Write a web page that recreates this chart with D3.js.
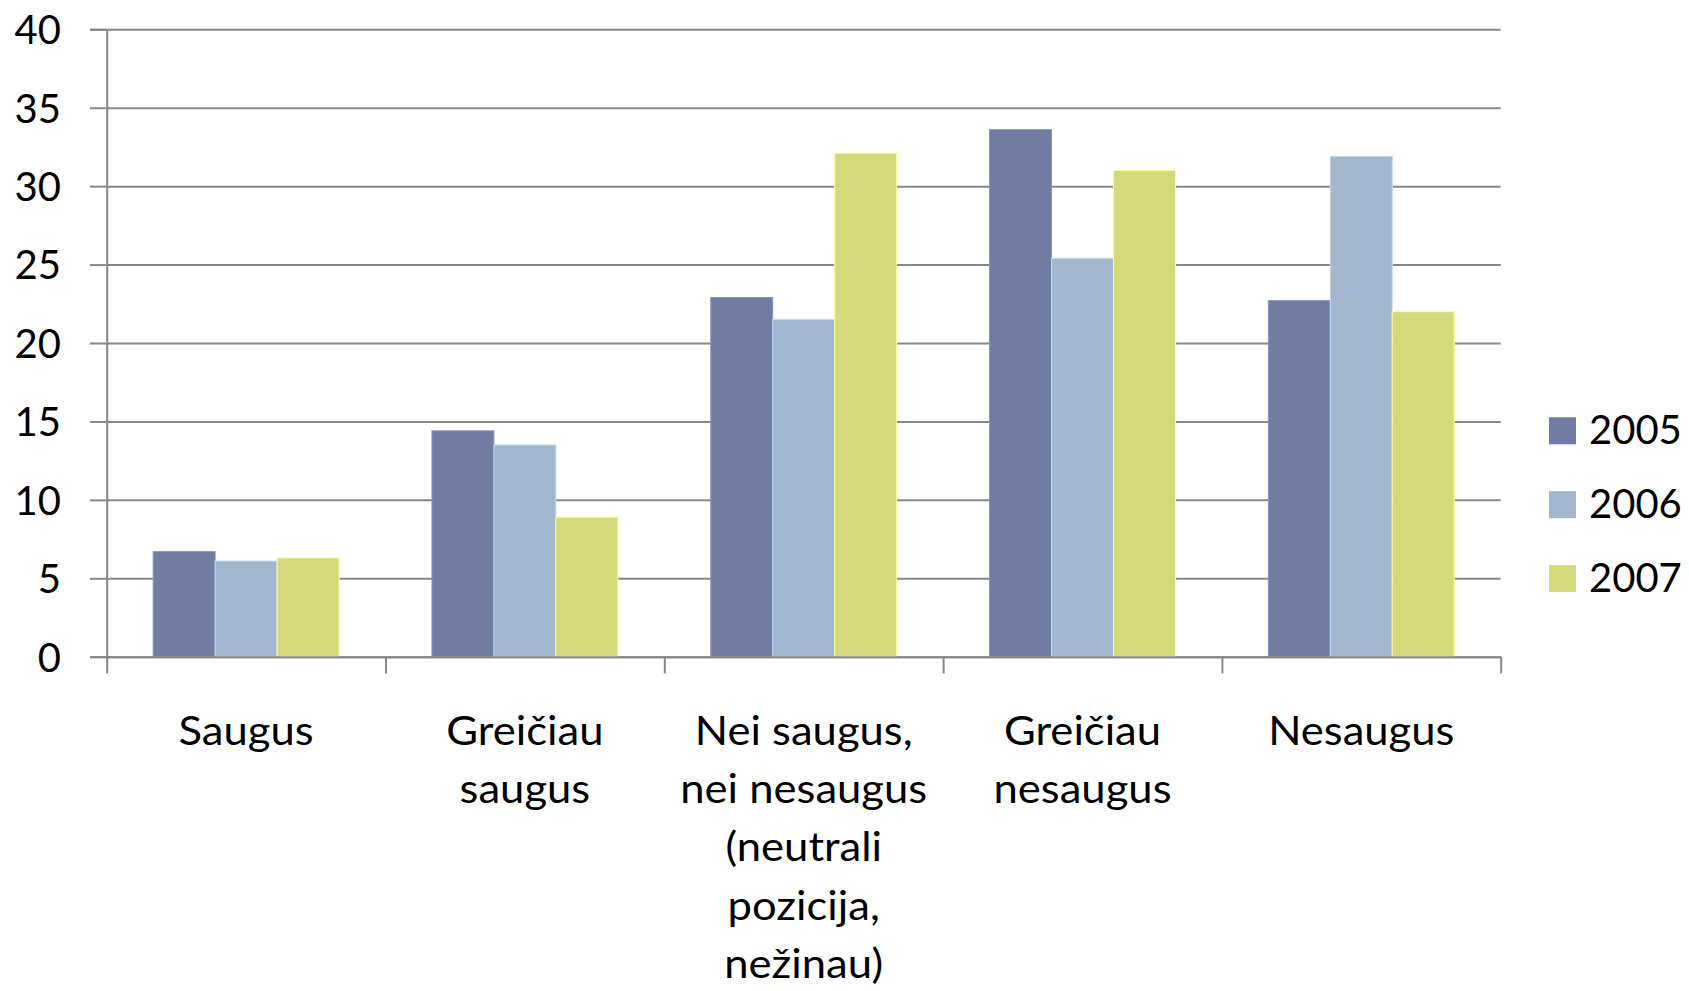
<!DOCTYPE html>
<html>
<head>
    <meta charset="utf-8" />
    <title>Saugus</title>
    <script src="https://cdn.jsdelivr.net/npm/d3@7"></script>
    <style>
        body { margin: 0; background: #fff; }
        text { font-family: Lato, "Open Sans", sans-serif; fill: #000; }
    </style>
</head>
<body>
    <script>
        var categories = [
            "Saugus",
            "Greičiau\nsaugus",
            "Nei saugus,\nnei nesaugus\n(neutrali\npozicija,\nnežinau)",
            "Greičiau\nnesaugus",
            "Nesaugus"
        ];
        var years = ["2005", "2006", "2007"];
        var values2005 = [6.7, 14.4, 22.9, 33.6, 22.7];
        var values2006 = [6.1, 13.5, 21.5, 25.4, 31.9];
        var values2007 = [6.3, 8.9, 32.1, 31.0, 22.0];
        var yTicks = [0, 5, 10, 15, 20, 25, 30, 35, 40];
        var colors = ["#727ba2", "#a2b7ce", "#d4da7c"];

        var series = [values2005, values2006, values2007];

        var W = 1689, H = 991;
        var margin = { top: 29.3, left: 106.7, right: 188.3, bottom: 334.3 };
        var width = W - margin.left - margin.right;
        var height = H - margin.top - margin.bottom;
        var fontSize = 40;

        var svg = d3.select("body")
            .append("svg")
            .attr("width", W)
            .attr("height", H);

        var g = svg.append("g")
            .attr("transform", "translate(" + margin.left + "," + margin.top + ")");

        var x = d3.scaleBand()
            .domain(categories)
            .range([0, width])
            .padding(0);

        // gap width 150% like the original: 3 bars + 1.5 bar gap per category
        var barW = x.bandwidth() / 4.5;
        var xSub = d3.scaleBand()
            .domain(years)
            .range([barW * 0.75, barW * 3.75]);

        var y = d3.scaleLinear()
            .domain([0, 40])
            .range([height, 0]);

        // grid lines
        g.append("g")
            .attr("class", "grid")
            .call(d3.axisLeft(y).tickValues(yTicks).tickSize(-width).tickFormat(""))
            .call(function (s) { s.select(".domain").remove(); })
            .selectAll("line")
            .attr("stroke", "#878787")
            .attr("stroke-width", 2);

        // bars
        var groups = g.selectAll(".cat")
            .data(categories)
            .enter()
            .append("g")
            .attr("class", "cat")
            .attr("transform", function (d) { return "translate(" + x(d) + ",0)"; });

        groups.selectAll("rect")
            .data(function (d, i) {
                return years.map(function (yr, k) { return { year: yr, value: series[k][i], k: k }; });
            })
            .enter()
            .append("rect")
            .attr("x", function (d) { return xSub(d.year); })
            .attr("width", xSub.bandwidth())
            .attr("y", function (d) { return y(d.value); })
            .attr("height", function (d) { return height - y(d.value); })
            .attr("fill", function (d) { return colors[d.k]; })
            .attr("stroke", function (d) { return d3.color(colors[d.k]).brighter(0.5); })
            .attr("stroke-width", 1);

        // y axis
        var yAxis = g.append("g")
            .call(d3.axisLeft(y).tickValues(yTicks).tickSize(16.7).tickPadding(29));
        yAxis.selectAll("line").attr("stroke", "#878787").attr("stroke-width", 2);
        yAxis.select(".domain").attr("stroke", "#878787").attr("stroke-width", 2);
        yAxis.selectAll("text").style("font-size", fontSize + "px").attr("dy", "0.36em");

        // x axis boundary ticks
        var xb = d3.scaleLinear().domain([0, categories.length]).range([0, width]);
        var xTickAxis = g.append("g")
            .attr("transform", "translate(0," + height + ")")
            .call(d3.axisBottom(xb).ticks(categories.length).tickSize(16.7).tickSizeOuter(0).tickFormat(""));
        xTickAxis.selectAll("line").attr("stroke", "#878787").attr("stroke-width", 2);
        xTickAxis.select(".domain").attr("stroke", "#878787").attr("stroke-width", 2);

        // category labels (slightly wider, like the stretched original)
        var xAxis = g.append("g")
            .attr("transform", "translate(0," + height + ")")
            .call(d3.axisBottom(x).tickSize(0).tickPadding(0));
        xAxis.select(".domain").remove();
        xAxis.selectAll("text")
            .style("font-size", fontSize + "px")
            .attr("y", 0)
            .attr("dy", null)
            .attr("transform", "scale(1.09,1)")
            .each(function (d) {
                var t = d3.select(this);
                t.text(null);
                d.split("\n").forEach(function (line, i) {
                    t.append("tspan")
                        .attr("x", 0)
                        .attr("y", 88.3 + i * 58.2)
                        .text(line);
                });
            });

        // legend
        var legend = svg.selectAll(".legend")
            .data(years)
            .enter()
            .append("g")
            .attr("class", "legend")
            .attr("transform", function (d, i) { return "translate(1549," + (417.3 + i * 73.9) + ")"; });

        legend.append("rect")
            .attr("width", 27)
            .attr("height", 27)
            .attr("fill", function (d, i) { return colors[i]; });

        legend.append("text")
            .attr("x", 40)
            .attr("y", 27)
            .style("font-size", fontSize + "px")
            .text(function (d) { return d; });
    </script>
</body>
</html>
